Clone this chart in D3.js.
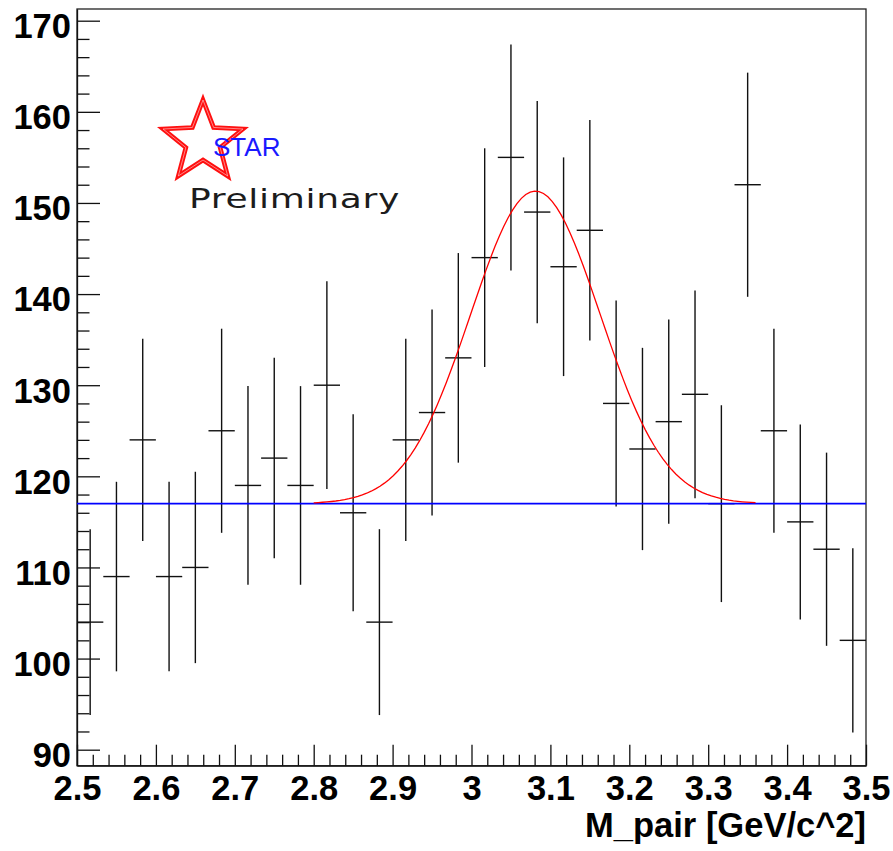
<!DOCTYPE html>
<html>
<head>
<meta charset="utf-8">
<script src="https://cdn.jsdelivr.net/npm/d3@7"></script>
<style>
  html, body { margin: 0; padding: 0; background: #fff; }
  svg { display: block; }
</style>
</head>
<body>
<svg id="chart" width="893" height="851"></svg>
<script>
// ---- data ----
const binCenters = [2.5167, 2.5500, 2.5833, 2.6167, 2.6500, 2.6833, 2.7167, 2.7500, 2.7833, 2.8167,
                    2.8500, 2.8833, 2.9167, 2.9500, 2.9833, 3.0167, 3.0500, 3.0833, 3.1167, 3.1500,
                    3.1833, 3.2167, 3.2500, 3.2833, 3.3167, 3.3500, 3.3833, 3.4167, 3.4500, 3.4833];
const binWidth = 1 / 30;
const counts = [104, 109, 124, 109, 110, 125, 119, 122, 119, 130,
                116, 104, 124, 127, 133, 144, 155, 149, 143, 147,
                128, 123, 126, 129, 117, 152, 125, 115, 112, 102];
const errors = [10.2, 10.4, 11.1, 10.4, 10.5, 11.2, 10.9, 11.0, 10.9, 11.4,
                10.8, 10.2, 11.1, 11.3, 11.5, 12.0, 12.4, 12.2, 12.0, 12.1,
                11.3, 11.1, 11.2, 11.4, 10.8, 12.3, 11.2, 10.7, 10.6, 10.1];
const xTicks = [2.5, 2.6, 2.7, 2.8, 2.9, 3.0, 3.1, 3.2, 3.3, 3.4, 3.5];
const xTickLabels = ["2.5", "2.6", "2.7", "2.8", "2.9", "3", "3.1", "3.2", "3.3", "3.4", "3.5"];
const yTicks = [90, 100, 110, 120, 130, 140, 150, 160, 170];
const xTitle = "M_pair [GeV/c^2]";
// Gaussian + constant fit (red) and constant background (blue)
const fitConst = 117;
const fitAmp = 34.3;
const fitMean = 3.081;
const fitSigma = 0.082;
const fitRange = [2.8, 3.36];
const bgRange = [2.5, 3.5];

// ---- layout ----
const L = 77, R = 866, T = 9, B = 765.7;
const svg = d3.select("#chart");
const x = d3.scaleLinear().domain([2.5, 3.5]).range([L, R]);
const y = d3.scaleLinear().domain([88.244, 171.284]).range([B, T]);
const FONT = "'Liberation Sans', Arial, Helvetica, sans-serif";

// frame
svg.append("rect").attr("x", L).attr("y", T).attr("width", R - L).attr("height", B - T)
  .attr("fill", "#fff").attr("stroke", "#222").attr("stroke-width", 1.3);

// x axis: minor ticks
const xMinor = d3.range(2.5, 3.5001, 0.02).filter(v => Math.abs(Math.round(v * 10) - v * 10) > 1e-6);
svg.append("g").attr("transform", `translate(0,${B})`)
  .call(d3.axisBottom(x).tickValues(xMinor).tickSizeInner(-11).tickSizeOuter(0).tickFormat(""))
  .call(g => g.select(".domain").remove())
  .call(g => g.selectAll("line").attr("stroke", "#111").attr("stroke-width", 1.3));
// x axis: major ticks + labels
svg.append("g").attr("transform", `translate(0,${B})`)
  .call(d3.axisBottom(x).tickValues(xTicks).tickSizeInner(-21).tickSizeOuter(0).tickPadding(10)
        .tickFormat((d, i) => xTickLabels[i]))
  .call(g => g.select(".domain").attr("stroke", "#111").attr("stroke-width", 1.3))
  .call(g => g.selectAll("line").attr("stroke", "#111").attr("stroke-width", 1.3))
  .call(g => g.selectAll("text").attr("font-family", FONT).attr("font-weight", "bold")
        .attr("font-size", "34.5px").attr("fill", "#000").attr("dy", "0.71em"));

// y axis: minor ticks
const yMinor = d3.range(90, 171, 2).filter(v => v % 10 !== 0);
svg.append("g").attr("transform", `translate(${L},0)`)
  .call(d3.axisLeft(y).tickValues(yMinor).tickSizeInner(-12.5).tickSizeOuter(0).tickFormat(""))
  .call(g => g.select(".domain").remove())
  .call(g => g.selectAll("line").attr("stroke", "#111").attr("stroke-width", 1.3));
// y axis: major ticks + labels
svg.append("g").attr("transform", `translate(${L},0)`)
  .call(d3.axisLeft(y).tickValues(yTicks).tickSizeInner(-23).tickSizeOuter(0).tickPadding(6)
        .tickFormat(d3.format("d")))
  .call(g => g.select(".domain").attr("stroke", "#111").attr("stroke-width", 1.3))
  .call(g => g.selectAll("line").attr("stroke", "#111").attr("stroke-width", 1.3))
  .call(g => g.selectAll("text").attr("font-family", FONT).attr("font-weight", "bold")
        .attr("font-size", "34.5px").attr("fill", "#000").attr("dy", "0.49em"));

// axis title
svg.append("text").attr("x", R).attr("y", 836.5).attr("text-anchor", "end")
  .attr("font-family", FONT).attr("font-weight", "bold").attr("font-size", "34.5px")
  .attr("fill", "#000").text(xTitle);

// data points with error bars
const pts = svg.append("g").attr("stroke", "#111").attr("stroke-width", 1.4);
counts.forEach((v, i) => {
  const c = binCenters[i];
  pts.append("line").attr("x1", x(c)).attr("x2", x(c))
    .attr("y1", y(v - errors[i])).attr("y2", y(v + errors[i]));
  pts.append("line").attr("x1", x(c - binWidth / 2)).attr("x2", x(c + binWidth / 2))
    .attr("y1", y(v)).attr("y2", y(v));
});

// background line (blue)
svg.append("line").attr("x1", x(bgRange[0])).attr("x2", x(bgRange[1]))
  .attr("y1", y(fitConst)).attr("y2", y(fitConst))
  .attr("stroke", "#0000ff").attr("stroke-width", 1.7);

// fit curve (red)
const npx = 100;
const fitPts = d3.range(npx + 1).map(k => {
  const m = fitRange[0] + (fitRange[1] - fitRange[0]) * k / npx;
  return [m, fitConst + fitAmp * Math.exp(-0.5 * Math.pow((m - fitMean) / fitSigma, 2))];
});
svg.append("path").datum(fitPts)
  .attr("d", d3.line().x(d => x(d[0])).y(d => y(d[1])))
  .attr("fill", "none").attr("stroke", "#ff0000").attr("stroke-width", 1.3);

// STAR logo
const cx = 203, cy = 142, Ro = 42, Ri = 18;
const starPts = d3.range(10).map(k => {
  const a = -Math.PI / 2 + k * Math.PI / 5;
  const r = k % 2 === 0 ? Ro : Ri;
  return [cx + r * Math.cos(a), cy + r * Math.sin(a)];
});
const starPath = d3.line()(starPts) + "Z";
svg.append("path").attr("d", starPath).attr("fill", "none")
  .attr("stroke", "#ff1010").attr("stroke-width", 4.6).attr("stroke-linejoin", "miter");
svg.append("path").attr("d", starPath).attr("fill", "none")
  .attr("stroke", "#ffffff").attr("stroke-opacity", 0.55).attr("stroke-width", 0.9);
svg.append("text").attr("x", 213).attr("y", 155.5).attr("font-family", FONT)
  .attr("font-size", "26px").attr("fill", "#1a1aff").text("STAR");
svg.append("text").attr("x", 189).attr("y", 208).attr("font-family", "'DejaVu Sans', sans-serif")
  .attr("font-weight", "normal").attr("font-size", "27px").attr("fill", "#1c1c1c")
  .attr("letter-spacing", "0.5px")
  .attr("textLength", 211).attr("lengthAdjust", "spacingAndGlyphs").text("Preliminary");
</script>
</body>
</html>
